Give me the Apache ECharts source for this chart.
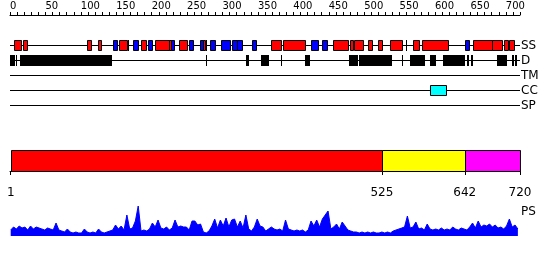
<!DOCTYPE html>
<html><head><meta charset="utf-8">
<script src="https://cdn.jsdelivr.net/npm/echarts@6/dist/echarts.min.js"></script>
<style>html,body{margin:0;padding:0;background:#fff}#c{width:550px;height:260px}</style>
</head><body><div id="c"></div>
<script>
// ---------- data ----------
const seqLength = 720;
const rulerTicks = [0,10,20,30,40,50,60,70,80,90,100,110,120,130,140,150,160,170,180,190,200,210,220,230,240,250,260,270,280,290,300,310,320,330,340,350,360,370,380,390,400,410,420,430,440,450,460,470,480,490,500,510,520,530,540,550,560,570,580,590,600,610,620,630,640,650,660,670,680,690,700,710,720];
const rulerLabels = [0,50,100,150,200,250,300,350,400,450,500,550,600,650,700];
const trackNames = ['SS','D','TM','CC','SP'];
const helix = [[5,16],[19,24],[109,114],[124,128],[154,165],[167,167],[185,192],[205,224],[224,227],[238,250],[273,275],[368,382],[386,416],[456,477],[480,484],[486,499],[506,511],[519,525],[537,553],[569,578],[582,618],[653,680],[680,694],[697,703],[705,711]];
const strand = [[146,151],[174,180],[195,200],[227,231],[253,259],[268,272],[276,278],[282,289],[298,311],[314,321],[321,327],[342,347],[425,435],[441,447],[559,561],[643,648]];
const disorder = [[0,7],[9,9],[14,144],[277,277],[333,337],[354,366],[383,383],[416,423],[478,491],[493,539],[553,553],[565,571],[571,586],[593,601],[611,642],[645,648],[651,654],[687,701],[708,712],[713,716]];
const transmembrane = [];
const coiledCoil = [[593,615]];
const signalPeptide = [];
const domainStarts = [1,525,642];
const domainEnds = [525,642,720];
const axisTickValues = [1,525,642,720];
const psStart = 1, psStep = 4;
const psValues = [
 6,9,7,10,8,9,6,10,7,9,
 8,7,6,8,7,6,13,6,5,4,
 7,4,3,4,3,3,7,4,3,4,
 3,7,4,3,4,5,6,11,7,10,
 6,21,7,8,15,30,5,6,5,7,
 13,9,16,8,7,9,6,8,16,9,
 10,9,9,6,15,15,11,12,4,3,
 5,10,17,8,16,10,18,9,16,17,
 9,15,8,21,7,5,9,17,10,9,
 5,7,9,7,6,7,5,16,7,6,
 5,6,5,6,4,6,15,10,16,9,
 17,21,25,7,9,12,7,14,10,6,
 5,4,4,3,4,3,4,3,4,3,
 3,4,3,4,3,5,6,7,8,9,
 20,8,9,14,7,8,6,12,7,6,
 7,6,8,6,7,6,9,7,6,8,
 7,6,9,13,8,15,9,11,10,12,
 9,11,8,9,7,10,17,9,11,7
];

// ---------- styles ----------
const FONT = 'DejaVu Sans';
const kindStyle = [
  {fill:'#ff0000', stroke:'#000'}, // helix
  {fill:'#0000ff', stroke:'#000'}, // strand
  {fill:'#000000', stroke:null},   // disorder
  {fill:'#00ffff', stroke:'#000'}, // coiled coil
  {fill:'#808080', stroke:'#000'}, // TM
  {fill:'#808080', stroke:'#000'}  // SP
];
const domainColors = ['#ff0000','#ffff00','#ff00ff'];

// track index on the tracks y axis (0 = ruler)
const segData = [];
helix.forEach(s => segData.push([s[0], s[1], 2, 0]));
strand.forEach(s => segData.push([s[0], s[1], 2, 1]));
disorder.forEach(s => segData.push([s[0], s[1], 3, 2]));
transmembrane.forEach(s => segData.push([s[0], s[1], 4, 4]));
coiledCoil.forEach(s => segData.push([s[0], s[1], 5, 3]));
signalPeptide.forEach(s => segData.push([s[0], s[1], 6, 5]));

const chart = echarts.init(document.getElementById('c'), null, {renderer:'canvas'});
const baseGrid = {left:10, width:510, outerBoundsMode:'none', containLabel:false};

chart.setOption({
  animation:false,
  backgroundColor:'#fff',
  grid:[
    Object.assign({top:15, height:90}, baseGrid),
    Object.assign({top:150, height:21}, baseGrid),
    Object.assign({top:206, height:30}, baseGrid)
  ],
  xAxis:[
    {gridIndex:0, type:'value', min:0, max:seqLength, position:'top',
     axisLine:{show:true, lineStyle:{color:'#000', width:1}},
     axisTick:{show:true, customValues:rulerTicks, length:3, lineStyle:{color:'#000'}},
     axisLabel:{show:true, customValues:rulerLabels, align:'left', margin:4, fontSize:10, color:'#000', fontFamily:FONT},
     splitLine:{show:false}},
    {gridIndex:1, type:'value', min:0, max:seqLength, position:'bottom', offset:10,
     axisLine:{show:true, lineStyle:{color:'#000', width:1}},
     axisTick:{show:true, customValues:axisTickValues, length:4, lineStyle:{color:'#000'}},
     axisLabel:{show:true, customValues:axisTickValues, margin:6, fontSize:12, color:'#000', fontFamily:FONT},
     splitLine:{show:false}},
    {gridIndex:2, type:'value', min:0, max:seqLength, show:false}
  ],
  yAxis:[
    {gridIndex:0, type:'value', min:0, max:6, inverse:true, show:false},
    {gridIndex:1, type:'value', min:0, max:1, show:false},
    {gridIndex:2, type:'value', min:0, max:30, show:false}
  ],
  graphic:[
    {type:'text', left:521, top:206, style:{text:'PS', font:'12px "DejaVu Sans"', fill:'#000'}}
  ],
  series:[
    { // track base lines + names
      type:'custom', xAxisIndex:0, yAxisIndex:0, clip:false, z:1,
      data: trackNames.map((n,i) => [i+2]),
      encode:{y:0},
      renderItem:(params, api) => {
        const t = api.value(0);
        const a = api.coord([0, t]), b = api.coord([seqLength, t]);
        const y = Math.round(a[1]) + 0.5;
        return {type:'group', children:[
          {type:'line', shape:{x1:Math.round(a[0]), y1:y, x2:Math.round(b[0]), y2:y}, style:{stroke:'#000', lineWidth:1}},
          {type:'text', x:Math.round(b[0])+1, y:y, style:{text:trackNames[params.dataIndex], font:'12px "DejaVu Sans"', fill:'#000', verticalAlign:'middle', align:'left'}}
        ]};
      }
    },
    { // feature segments
      type:'custom', xAxisIndex:0, yAxisIndex:0, clip:false, z:2,
      data: segData,
      encode:{x:[0,1], y:2},
      renderItem:(params, api) => {
        const s = api.value(0), e = api.value(1), t = api.value(2), k = api.value(3);
        const a = api.coord([s, t]), b = api.coord([e, t]);
        const st = kindStyle[k];
        let x1 = Math.round(a[0]), x2 = Math.round(b[0]);
        const yc = Math.round(a[1]);
        if (x2 - x1 < 2) {
          return {type:'rect', shape:{x:x1, y:yc-5, width:1, height:11}, style:{fill:'#000'}};
        }
        if (st.stroke) {
          return {type:'rect', shape:{x:x1+0.5, y:yc-4.5, width:x2-x1, height:10}, style:{fill:st.fill, stroke:st.stroke, lineWidth:1}};
        }
        return {type:'rect', shape:{x:x1, y:yc-5, width:x2-x1, height:11}, style:{fill:st.fill}};
      }
    },
    { // domains
      type:'custom', xAxisIndex:1, yAxisIndex:1, clip:false, z:2,
      data: domainStarts.map((s,i) => [s, domainEnds[i]]),
      encode:{x:[0,1]},
      renderItem:(params, api) => {
        const a = api.coord([api.value(0), 0]), b = api.coord([api.value(1), 1]);
        const x1 = Math.round(a[0]), x2 = Math.round(b[0]);
        const y1 = Math.round(b[1]), y2 = Math.round(a[1]);
        return {type:'rect', shape:{x:x1+0.5, y:y1+0.5, width:x2-x1, height:y2-y1}, style:{fill:domainColors[params.dataIndex], stroke:'#000', lineWidth:1}};
      }
    },
    { // PS profile
      type:'line', xAxisIndex:2, yAxisIndex:2, symbol:'none', z:2,
      data: psValues.map((v,i) => [psStart + i*psStep, v]),
      lineStyle:{color:'#0000ff', width:1},
      itemStyle:{color:'#0000ff'},
      areaStyle:{color:'#0000ff', opacity:1}
    }
  ]
});
</script>
</body></html>
